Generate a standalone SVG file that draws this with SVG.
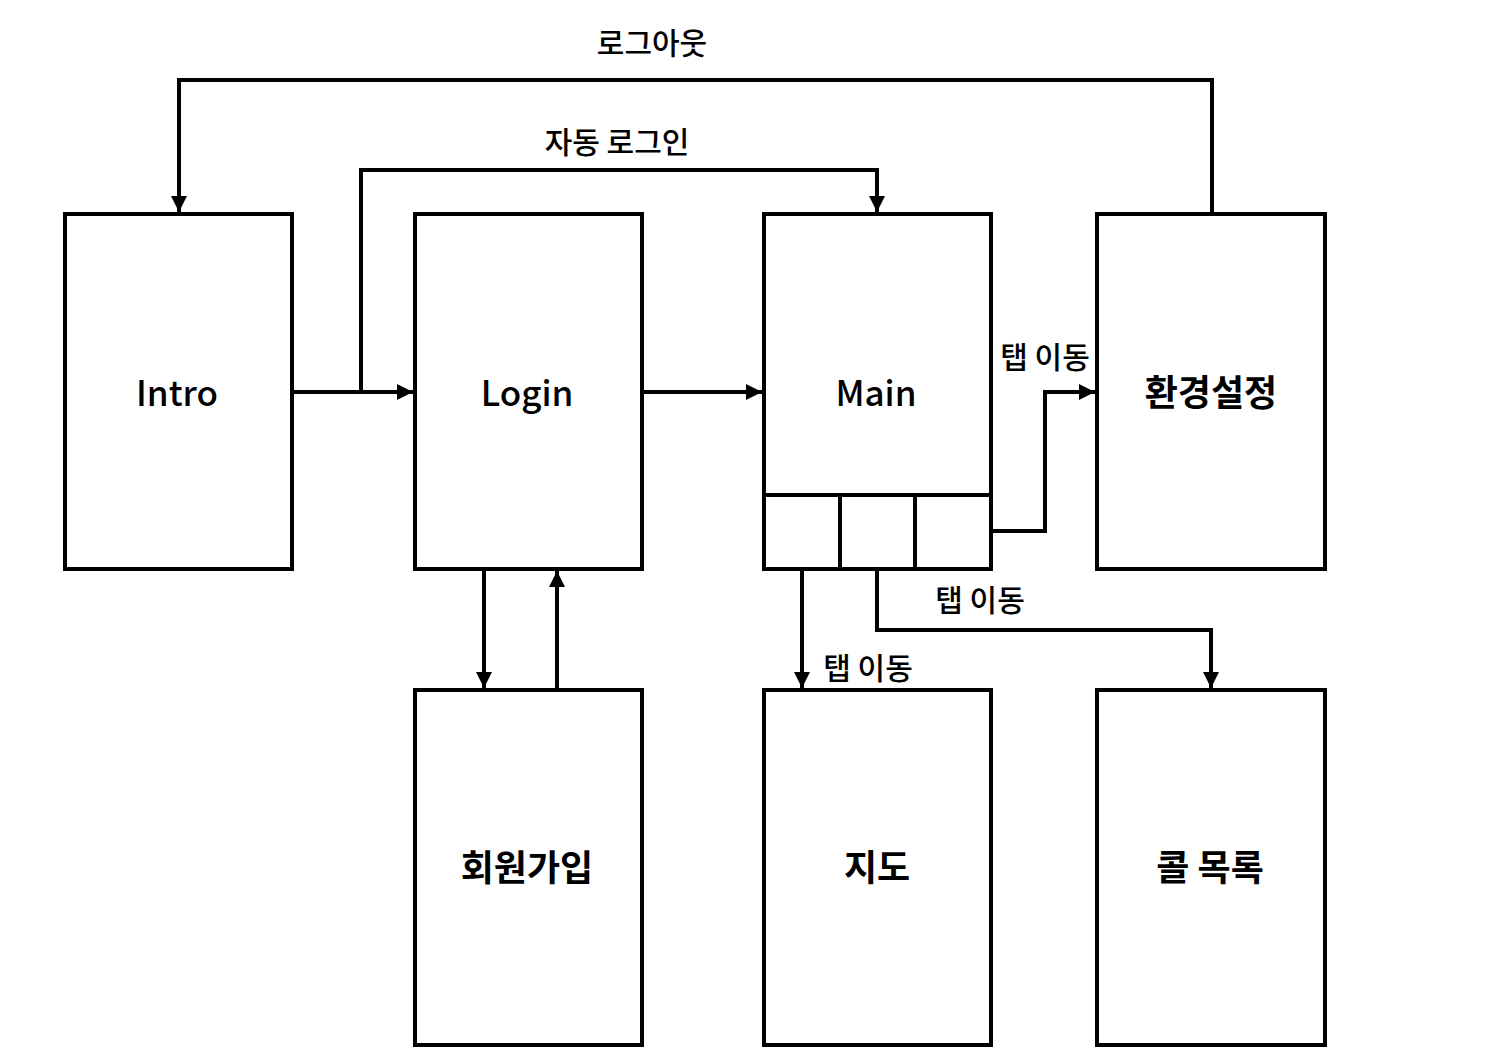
<svg xmlns="http://www.w3.org/2000/svg" width="1503" height="1061" viewBox="0 0 1503 1061">
<style>
.box{fill:#fff;stroke:#000;stroke-width:4}
.ln{fill:none;stroke:#000;stroke-width:4}
.t{font-family:"Noto Sans CJK KR","Noto Sans",sans-serif;font-size:35px;font-weight:500;text-anchor:middle;fill:#000}
.k{font-size:36px;font-weight:700}
.lb{font-family:"Noto Sans CJK KR","Noto Sans",sans-serif;font-size:30px;font-weight:500;text-anchor:middle;fill:#000}
</style>
<defs>
<marker id="ah" viewBox="0 0 10 10" refX="10" refY="5" markerWidth="4" markerHeight="4" markerUnits="strokeWidth" orient="auto">
<path d="M0,0 L10,5 L0,10 z" fill="#000"/>
</marker>
</defs>
<rect width="1503" height="1061" fill="#fff"/>
<g id="intro"><rect class="box" x="65" y="214" width="227" height="355"/><text class="t" x="177" y="406">Intro</text></g>
<g id="login"><rect class="box" x="415" y="214" width="227" height="355"/><text class="t" x="527" y="406">Login</text></g>
<g id="main"><rect class="box" x="764" y="214" width="227" height="355"/><text class="t" x="876" y="406">Main</text>
<path class="ln" d="M764,495 H991 M840,495 V569 M915,495 V569"/></g>
<g id="settings"><rect class="box" x="1097" y="214" width="228" height="355"/><text class="t k" x="1211" y="406">환경설정</text></g>
<g id="signup"><rect class="box" x="415" y="690" width="227" height="355"/><text class="t k" x="527" y="881">회원가입</text></g>
<g id="map"><rect class="box" x="764" y="690" width="227" height="355"/><text class="t k" x="877" y="881">지도</text></g>
<g id="calls"><rect class="box" x="1097" y="690" width="228" height="355"/><text class="t k" x="1210" y="881">콜 목록</text></g>
<g id="connectors">
<path class="ln" d="M1212,214 V80 H179 V212" marker-end="url(#ah)"/>
<path class="ln" d="M361,392 V170 H877 V212" marker-end="url(#ah)"/>
<path class="ln" d="M292,392 H413" marker-end="url(#ah)"/>
<path class="ln" d="M642,392 H762" marker-end="url(#ah)"/>
<path class="ln" d="M991,531 H1045 V392 H1095" marker-end="url(#ah)"/>
<path class="ln" d="M484,569 V688" marker-end="url(#ah)"/>
<path class="ln" d="M557,690 V571" marker-end="url(#ah)"/>
<path class="ln" d="M802,569 V688" marker-end="url(#ah)"/>
<path class="ln" d="M877,569 V630 H1211 V688" marker-end="url(#ah)"/>
<text class="lb" x="652" y="54">로그아웃</text>
<text class="lb" x="617" y="153">자동 로그인</text>
<text class="lb" x="1045" y="368">탭 이동</text>
<text class="lb" x="980" y="611">탭 이동</text>
<text class="lb" x="868" y="679">탭 이동</text>
</g>
</svg>
